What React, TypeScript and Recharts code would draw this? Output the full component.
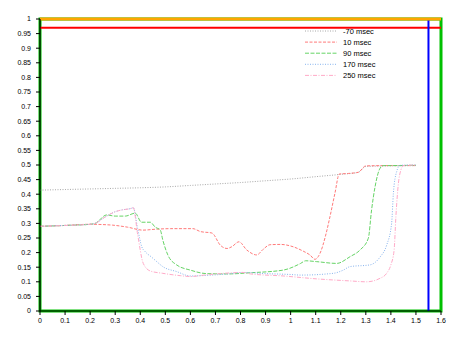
import React from "react";
import * as R from "recharts";
import { LineChart, Line, XAxis, YAxis, ReferenceLine } from "recharts";

const seriesNames = ["-70 msec", "10 msec", "90 msec", "170 msec", "250 msec"];
const seriesColors = ["#a8a8a8", "#ff7a7a", "#66d466", "#88b4ee", "#ffaac8"];
const seriesDash = ["1 1.5", "3 1.5", "4 1.5", "1 1.5", "4 1.5 1 1.5"];

const xM70 = [0, 0.1, 0.2, 0.3, 0.4, 0.5, 0.6, 0.7, 0.8, 0.9, 1.0, 1.1, 1.2, 1.27, 1.3, 1.4, 1.5];
const yM70 = [0.414, 0.416, 0.418, 0.42, 0.422, 0.425, 0.43, 0.435, 0.44, 0.446, 0.452, 0.46, 0.468, 0.475, 0.495, 0.497, 0.498];

const x10 = [0, 0.1, 0.2, 0.25, 0.29, 0.35, 0.41, 0.46, 0.52, 0.61, 0.64, 0.686, 0.72, 0.746, 0.765, 0.794, 0.825, 0.865, 0.89, 0.918, 0.96, 1.01, 1.05, 1.077, 1.097, 1.117, 1.14, 1.157, 1.177, 1.194, 1.23, 1.27, 1.3, 1.4, 1.5];
const y10 = [0.29, 0.293, 0.297, 0.296, 0.294, 0.287, 0.277, 0.28, 0.282, 0.282, 0.272, 0.267, 0.225, 0.214, 0.22, 0.237, 0.209, 0.192, 0.211, 0.227, 0.228, 0.22, 0.205, 0.192, 0.177, 0.197, 0.26, 0.323, 0.404, 0.469, 0.471, 0.475, 0.497, 0.498, 0.498];

const x90 = [0, 0.1, 0.2, 0.22, 0.266, 0.3, 0.34, 0.38, 0.405, 0.44, 0.46, 0.48, 0.49, 0.51, 0.545, 0.6, 0.665, 0.75, 0.84, 0.97, 1.04, 1.06, 1.104, 1.184, 1.237, 1.277, 1.31, 1.323, 1.337, 1.357, 1.37, 1.4, 1.5];
const y90 = [0.29, 0.293, 0.297, 0.3, 0.329, 0.325, 0.325, 0.335, 0.304, 0.304, 0.287, 0.277, 0.243, 0.192, 0.158, 0.14, 0.128, 0.127, 0.131, 0.14, 0.163, 0.172, 0.169, 0.163, 0.186, 0.209, 0.249, 0.346, 0.426, 0.489, 0.498, 0.498, 0.499];

const x170 = [0, 0.1, 0.2, 0.22, 0.26, 0.3, 0.326, 0.366, 0.372, 0.39, 0.406, 0.42, 0.446, 0.466, 0.49, 0.545, 0.6, 0.665, 0.75, 0.81, 0.9, 1.0, 1.04, 1.17, 1.21, 1.237, 1.317, 1.357, 1.383, 1.403, 1.41, 1.423, 1.437, 1.5];
const y170 = [0.29, 0.293, 0.297, 0.3, 0.322, 0.34, 0.346, 0.352, 0.354, 0.28, 0.22, 0.203, 0.184, 0.169, 0.152, 0.135, 0.12, 0.122, 0.127, 0.132, 0.128, 0.125, 0.123, 0.129, 0.14, 0.152, 0.158, 0.185, 0.225, 0.3, 0.403, 0.477, 0.499, 0.5];

const x250 = [0, 0.1, 0.2, 0.22, 0.26, 0.3, 0.326, 0.366, 0.372, 0.39, 0.412, 0.44, 0.49, 0.56, 0.6, 0.665, 0.75, 0.81, 0.84, 0.97, 1.104, 1.237, 1.303, 1.357, 1.383, 1.4, 1.413, 1.42, 1.43, 1.44, 1.45, 1.5];
const y250 = [0.29, 0.293, 0.297, 0.3, 0.322, 0.34, 0.346, 0.352, 0.354, 0.26, 0.163, 0.137, 0.129, 0.121, 0.118, 0.124, 0.13, 0.132, 0.127, 0.12, 0.11, 0.103, 0.1, 0.112, 0.129, 0.158, 0.209, 0.323, 0.437, 0.483, 0.498, 0.5];

const xTicks = [0, 0.1, 0.2, 0.3, 0.4, 0.5, 0.6, 0.7, 0.8, 0.9, 1, 1.1, 1.2, 1.3, 1.4, 1.5, 1.6];
const yTicks = [0, 0.05, 0.1, 0.15, 0.2, 0.25, 0.3, 0.35, 0.4, 0.45, 0.5, 0.55, 0.6, 0.65, 0.7, 0.75, 0.8, 0.85, 0.9, 0.95, 1];
const xMax = 1.6;
const yMax = 1;

const seriesXs = [xM70, x10, x90, x170, x250];
const seriesYs = [yM70, y10, y90, y170, y250];

const series = seriesNames.map((name, i) => ({
  name,
  color: seriesColors[i],
  dash: seriesDash[i],
  data: seriesXs[i].map((x, j) => ({ x, y: seriesYs[i][j] })),
}));

const FONT = "'Liberation Sans', Arial, sans-serif";
const tickStyle = { fontSize: 7, fill: "#000", fontFamily: FONT };

const fmt = (v: number) => String(Math.round(v * 100) / 100);

const usePA: any = (R as any).usePlotArea;

const Frame = () => {
  const pa = usePA ? usePA() : null;
  if (!pa) return null;
  return <rect x={pa.x} y={pa.y} width={pa.width} height={pa.height} fill="none" stroke="#00c000" strokeWidth={3} />;
};

const LegendBox = () => (
  <svg width={120} height={60} style={{ display: "block" }}>
    {series.map((s, i) => (
      <g key={s.name}>
        <line x1={5} x2={37} y1={5 + i * 11.1} y2={5 + i * 11.1} stroke={s.color} strokeWidth={1} strokeDasharray={s.dash} />
        <text x={43} y={5 + i * 11.1} dy="0.35em" fontSize={7.5} fontFamily={FONT} fill="#000">
          {s.name}
        </text>
      </g>
    ))}
  </svg>
);

export default function App() {
  return (
    <div style={{ position: "absolute", left: 0, top: 0, width: 463, height: 337, background: "#fff" }}>
      <LineChart width={463} height={337} margin={{ top: 19, right: 22, bottom: 6, left: 0 }}>
        <XAxis
          type="number"
          dataKey="x"
          domain={[0, xMax]}
          ticks={xTicks}
          tickFormatter={fmt}
          interval={0}
          allowDataOverflow
          height={20}
          tickSize={4}
          tickMargin={3}
          tick={tickStyle}
          stroke="#000"
          axisLine={{ stroke: "#000", strokeWidth: 1.2 }}
          tickLine={{ stroke: "#000" }}
        />
        <YAxis
          type="number"
          domain={[0, yMax]}
          ticks={yTicks}
          tickFormatter={fmt}
          interval={0}
          allowDataOverflow
          width={40}
          tickSize={4}
          tickMargin={5}
          tick={tickStyle}
          stroke="#000"
          axisLine={{ stroke: "#000", strokeWidth: 1.2 }}
          tickLine={{ stroke: "#000" }}
        />
        <ReferenceLine y={0.97} stroke="red" strokeWidth={2} />
        <ReferenceLine x={1.55} stroke="blue" strokeWidth={2} />
        <ReferenceLine y={yMax} stroke="orange" strokeWidth={3} ifOverflow="extendDomain" />
        <Frame />
        {series.map((s) => (
          <Line
            key={s.name}
            data={s.data}
            dataKey="y"
            name={s.name}
            type="monotone"
            stroke={s.color}
            strokeWidth={1}
            strokeDasharray={s.dash}
            dot={false}
            activeDot={false}
            isAnimationActive={false}
          />
        ))}
      </LineChart>
      <div style={{ position: "absolute", left: 300, top: 26 }}>
        <LegendBox />
      </div>
    </div>
  );
}
